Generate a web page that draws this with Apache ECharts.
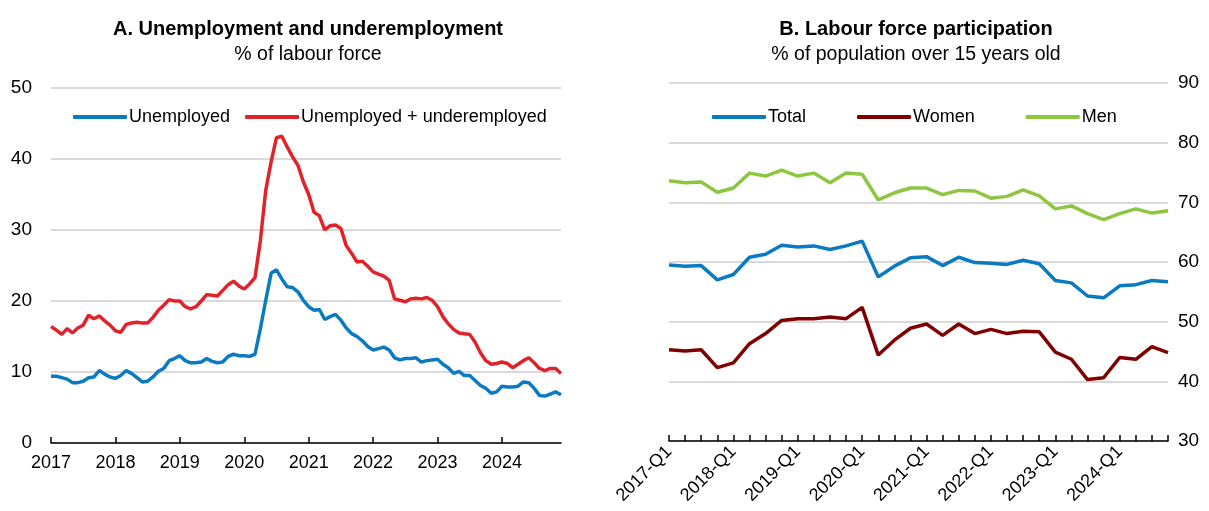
<!DOCTYPE html>
<html>
<head>
<meta charset="utf-8">
<script src="https://cdn.jsdelivr.net/npm/echarts@6/dist/echarts.min.js"></script>
<style>
  html, body { margin: 0; padding: 0; background: #fff; }
  #chart { width: 1209px; height: 511px; }
</style>
</head>
<body>
<div id="chart"></div>
<script>
// panel A: monthly, Jan 2017 - Dec 2024
const years = ["2017", "2018", "2019", "2020", "2021", "2022", "2023", "2024"];
const unemployed = [
  9.4, 9.4, 9.2, 9.0, 8.5, 8.5, 8.7, 9.2, 9.3, 10.2, 9.7, 9.3,
  9.1, 9.5, 10.2, 9.8, 9.2, 8.6, 8.7, 9.3, 10.1, 10.5, 11.6, 11.9,
  12.3, 11.6, 11.3, 11.3, 11.4, 11.9, 11.5, 11.3, 11.4, 12.2, 12.5, 12.3,
  12.3, 12.2, 12.5, 16.1, 20.1, 23.9, 24.4, 23.1, 22.0, 21.9, 21.3, 20.1,
  19.2, 18.7, 18.8, 17.4, 17.8, 18.1, 17.3, 16.2, 15.4, 15.0, 14.4, 13.6,
  13.1, 13.3, 13.5, 13.1, 12.0, 11.7, 11.9, 11.9, 12.0, 11.4, 11.6, 11.7,
  11.8, 11.1, 10.6, 9.8, 10.1, 9.5, 9.5, 8.8, 8.1, 7.7, 7.0, 7.2,
  8.0, 7.9, 7.9, 8.0, 8.6, 8.5, 7.7, 6.7, 6.6, 6.9, 7.2, 6.8
];
const underemployed = [
  16.4, 15.9, 15.3, 16.1, 15.5, 16.2, 16.6, 18.0, 17.5, 17.9, 17.2, 16.6,
  15.8, 15.6, 16.7, 16.9, 17.0, 16.9, 16.9, 17.7, 18.7, 19.4, 20.2, 20.0,
  20.0, 19.2, 18.9, 19.2, 20.0, 20.9, 20.8, 20.7, 21.5, 22.3, 22.8, 22.1,
  21.7, 22.4, 23.3, 28.5, 35.6, 39.6, 43.0, 43.2, 41.7, 40.3, 39.1, 36.8,
  35.0, 32.5, 32.0, 30.0, 30.6, 30.7, 30.2, 27.8, 26.7, 25.5, 25.6, 24.9,
  24.1, 23.8, 23.5, 22.9, 20.3, 20.1, 19.9, 20.3, 20.4, 20.3, 20.5, 20.1,
  19.2, 17.8, 16.8, 16.0, 15.5, 15.4, 15.3, 14.2, 12.7, 11.6, 11.1, 11.2,
  11.4, 11.2, 10.6, 11.1, 11.6, 12.0, 11.3, 10.5, 10.2, 10.5, 10.5, 9.8
];

// panel B: quarterly, 2017-Q1 - 2024-Q4
const total = [
  59.5, 59.3, 59.4, 57.0, 57.9, 60.8, 61.3, 62.8, 62.5, 62.7, 62.1, 62.7,
  63.5, 57.5, 59.3, 60.7, 60.9, 59.4, 60.8, 59.9, 59.8, 59.6, 60.3, 59.7,
  56.9, 56.5, 54.3, 54.0, 56.0, 56.2, 56.9, 56.7
];
const women = [
  45.3, 45.1, 45.3, 42.3, 43.1, 46.3, 48.0, 50.2, 50.5, 50.5, 50.8, 50.5,
  52.4, 44.4, 46.9, 48.9, 49.6, 47.7, 49.6, 48.0, 48.7, 48.0, 48.4, 48.3,
  44.9, 43.7, 40.3, 40.6, 44.0, 43.7, 45.8, 44.8
];
const men = [
  73.6, 73.3, 73.4, 71.7, 72.4, 74.9, 74.4, 75.4, 74.4, 74.9, 73.3, 74.9,
  74.7, 70.4, 71.6, 72.4, 72.4, 71.3, 72.0, 71.9, 70.7, 71.0, 72.1, 71.1,
  68.9, 69.4, 68.1, 67.1, 68.1, 68.9, 68.2, 68.6
];

const months = [];
const quarters = [];
years.forEach(y => {
  for (let m = 1; m <= 12; m++) months.push(y + "-" + String(m).padStart(2, "0"));
  for (let q = 1; q <= 4; q++) quarters.push(y + "-Q" + q);
});

const FONT = "'Liberation Sans', Arial, sans-serif";
const grey = "#d9d9d9";
const isJan = (i) => i % 12 === 0;

const chart = echarts.init(document.getElementById("chart"));

const option = {
  animation: false,
  textStyle: { fontFamily: FONT, color: "#000" },
  title: [
    {
      text: "A. Unemployment and underemployment",
      subtext: "% of labour force",
      left: 303, top: 14, textAlign: "center", itemGap: 6,
      textStyle: { fontFamily: FONT, fontSize: 20, fontWeight: "bold", color: "#000" },
      subtextStyle: { fontFamily: FONT, fontSize: 19.5, color: "#000" }
    },
    {
      text: "B. Labour force participation",
      subtext: "% of population over 15 years old",
      left: 911, top: 14, textAlign: "center", itemGap: 6,
      textStyle: { fontFamily: FONT, fontSize: 20, fontWeight: "bold", color: "#000" },
      subtextStyle: { fontFamily: FONT, fontSize: 19.5, color: "#000" }
    }
  ],
  legend: [
    {
      data: ["Unemployed", "Unemployed + underemployed"],
      left: 68, top: 103, itemWidth: 54, itemHeight: 4, itemGap: 15,
      icon: "roundRect",
      textStyle: { fontFamily: FONT, fontSize: 18, color: "#000", padding: [0, 0, 0, -3] }
    },
    {
      data: ["Total", "Women", "Men"],
      left: 707, top: 103, itemWidth: 54, itemHeight: 4, itemGap: 51,
      icon: "roundRect",
      textStyle: { fontFamily: FONT, fontSize: 18, color: "#000", padding: [0, 0, 0, -3] }
    }
  ],
  grid: [
    { left: 51, right: 648, top: 88, bottom: 68 },
    { left: 669, right: 41, top: 83, bottom: 70 }
  ],
  xAxis: [
    {
      gridIndex: 0, type: "category", data: months, boundaryGap: false,
      axisLine: { lineStyle: { color: "#000", width: 1.5 } },
      axisTick: { inside: true, length: 6, interval: isJan, lineStyle: { color: "#000", width: 1.5 } },
      axisLabel: {
        interval: isJan, fontSize: 18, color: "#000", margin: 11,
        formatter: (v) => v.slice(0, 4)
      }
    },
    {
      gridIndex: 1, type: "category", data: quarters, boundaryGap: false,
      axisLine: { lineStyle: { color: "#000", width: 1.5 } },
      axisTick: { inside: true, length: 6, interval: 0, lineStyle: { color: "#000", width: 1.5 } },
      axisLabel: { interval: 3, rotate: 45, fontSize: 18, color: "#000", margin: 8 }
    }
  ],
  yAxis: [
    {
      gridIndex: 0, type: "value", min: 0, max: 50, interval: 10,
      axisLine: { show: false }, axisTick: { show: false },
      axisLabel: { fontSize: 19, color: "#000", margin: 19 },
      splitLine: { lineStyle: { color: grey, width: 2 } }
    },
    {
      gridIndex: 1, type: "value", position: "right", min: 30, max: 90, interval: 10,
      axisLine: { show: false }, axisTick: { show: false },
      axisLabel: { fontSize: 19, color: "#000", margin: 10 },
      splitLine: { lineStyle: { color: grey, width: 2 } }
    }
  ],
  series: [
    { name: "Unemployed", type: "line", xAxisIndex: 0, yAxisIndex: 0, data: unemployed,
      color: "#0b7bc1", showSymbol: false, lineStyle: { width: 3.5 } },
    { name: "Unemployed + underemployed", type: "line", xAxisIndex: 0, yAxisIndex: 0, data: underemployed,
      color: "#e0232b", showSymbol: false, lineStyle: { width: 3.5 } },
    { name: "Total", type: "line", xAxisIndex: 1, yAxisIndex: 1, data: total,
      color: "#0b7bc1", showSymbol: false, lineStyle: { width: 3.5 } },
    { name: "Women", type: "line", xAxisIndex: 1, yAxisIndex: 1, data: women,
      color: "#7f0000", showSymbol: false, lineStyle: { width: 3.5 } },
    { name: "Men", type: "line", xAxisIndex: 1, yAxisIndex: 1, data: men,
      color: "#8dc63f", showSymbol: false, lineStyle: { width: 3.5 } }
  ]
};

chart.setOption(option);
</script>
</body>
</html>
